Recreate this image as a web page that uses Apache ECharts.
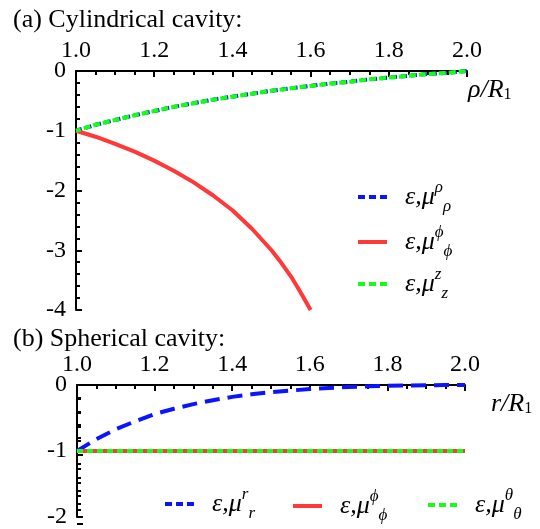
<!DOCTYPE html>
<html>
<head>
<meta charset="utf-8">
<script src="https://cdn.jsdelivr.net/npm/echarts@6/dist/echarts.min.js"></script>
<style>html,body{margin:0;padding:0;background:#fff;}#c{width:540px;height:529px;}#d{position:absolute;left:100px;top:95px;width:420px;font:9px monospace;white-space:pre-wrap;background:rgba(255,255,190,0.95);display:none;}</style>
</head>
<body>
<div id="c"></div>
<div id="d"></div>
<script>
// ---- data ----
// (a) cylindrical cavity
var xA = [1.00,1.05,1.10,1.15,1.20,1.25,1.30,1.35,1.40,1.45,1.50,1.55,1.60,1.65,1.70,1.75,1.80,1.85,1.90,1.95,2.00];
var rhoA = [-1.00,-0.90,-0.82,-0.74,-0.67,-0.60,-0.54,-0.48,-0.43,-0.38,-0.33,-0.29,-0.25,-0.21,-0.18,-0.14,-0.11,-0.08,-0.05,-0.03,0.00];
var zA = [-1.00,-0.90,-0.82,-0.74,-0.67,-0.60,-0.54,-0.48,-0.43,-0.38,-0.33,-0.29,-0.25,-0.21,-0.18,-0.14,-0.11,-0.08,-0.05,-0.03,0.00];
var xPhiA = [1.00,1.05,1.10,1.15,1.20,1.25,1.30,1.35,1.40,1.45,1.50,1.525,1.55,1.575,1.60];
var phiA = [-1.00,-1.10,-1.22,-1.35,-1.50,-1.67,-1.86,-2.08,-2.33,-2.64,-3.00,-3.21,-3.44,-3.71,-4.00];
// (b) spherical cavity
var xB = [1.00,1.05,1.10,1.15,1.20,1.25,1.30,1.35,1.40,1.45,1.50,1.55,1.60,1.65,1.70,1.75,1.80,1.85,1.90,1.95,2.00];
var rB = [-1.00,-0.82,-0.67,-0.55,-0.44,-0.36,-0.29,-0.23,-0.18,-0.14,-0.11,-0.085,-0.06,-0.045,-0.03,-0.02,-0.012,-0.007,-0.003,-0.001,0.00];
var xFlatB = [1.0, 2.0];
var phiB = [-1, -1];
var thetaB = [-1, -1];

function pairs(xs, ys) { return xs.map(function (x, i) { return [x, ys[i]]; }); }

var FONT = "'Liberation Serif', 'DejaVu Serif', serif";
var BLUE = '#0a14ff', RED = '#ff3838', GREEN = '#14ff14';
var TICK = '#010101';
var DASH_ICON = 'path://M0,0h7v4h-7zM11,0h7v4h-7zM22,0h7v4h-7z';

var legendRich = {
  sp: { width: 13 },
  m: { fontFamily: FONT, fontStyle: 'italic', fontSize: 26, color: '#000', lineHeight: 36, verticalAlign: 'middle' },
  sup: { fontFamily: FONT, fontStyle: 'italic', fontSize: 17, color: '#000', lineHeight: 17, verticalAlign: 'top' },
  sub: { fontFamily: FONT, fontStyle: 'italic', fontSize: 17, color: '#000', lineHeight: 17, verticalAlign: 'bottom' }
};
var legendLabels = {
  rhoA: ['ρ', 'ρ'], phiA: ['ϕ', 'ϕ'], zA: ['z', 'z'],
  rB: ['r', 'r'], phiB: ['ϕ', 'ϕ'], thetaB: ['θ', 'θ']
};
function legendFmt(name) {
  var l = legendLabels[name];
  return '{sp|}{m|ε,μ}{sup|' + l[0] + '}{sub|' + l[1] + '}';
}
function oneLegend(name, icon, left, top) {
  return {
    data: [{ name: name, icon: icon }],
    left: left, top: top, orient: 'horizontal',
    itemWidth: 29, itemHeight: 4, padding: 0, selectedMode: false,
    formatter: legendFmt,
    textStyle: { fontFamily: FONT, rich: legendRich }
  };
}

function xAxisCfg(grid, nameRich, nameGap) {
  return {
    type: 'value', gridIndex: grid, position: 'top', min: 1, max: 2, interval: 0.2,
    axisLine: { show: true, onZero: false, lineStyle: { color: '#000', width: 2 } },
    axisTick: { show: true, inside: true, length: 6, lineStyle: { color: '#000', width: 2 } },
    minorTick: { show: true, splitNumber: 4, length: 4, lineStyle: { color: '#000', width: 2 } },
    splitLine: { show: false },
    axisLabel: { fontFamily: FONT, fontSize: 24, color: '#000', margin: 8,
      formatter: function (v) { return v.toFixed(1); } },
    name: nameRich, nameLocation: 'end', nameGap: nameGap,
    nameTextStyle: {
      fontFamily: FONT,
      align: 'left', verticalAlign: 'top', padding: [4, 0, 0, 0],
      rich: {
        i: { fontFamily: FONT, fontStyle: 'italic', fontSize: 26, color: '#000', lineHeight: 28, verticalAlign: 'bottom' },
        s: { fontFamily: FONT, fontSize: 16, color: '#000', lineHeight: 16, verticalAlign: 'bottom' }
      }
    }
  };
}
function yAxisCfg(grid, min) {
  return {
    type: 'value', gridIndex: grid, min: min, max: 0, interval: 1,
    axisLine: { show: true, onZero: false, lineStyle: { color: '#000', width: 2 } },
    axisTick: { show: true, inside: true, length: 6, lineStyle: { color: '#000', width: 2 } },
    minorTick: { show: true, splitNumber: 5, length: 4, lineStyle: { color: '#000', width: 2 } },
    splitLine: { show: false },
    axisLabel: { fontFamily: FONT, fontSize: 24, color: '#000', margin: 10,
      formatter: function (v) { return String(v); } }
  };
}

// ---- main layout ----
var mainGrids = [
  { left: 76, top: 71, width: 391, height: 239, yMin: -4 },
  { left: 77, top: 385, width: 388, height: 139, yMin: -2 }
];
var grids = mainGrids.map(function (g) { return { left: g.left, top: g.top, width: g.width, height: g.height }; });
var xAxes = [ xAxisCfg(0, '{i|ρ/R}{s|1}', 1), xAxisCfg(1, '{i|r/R}{s|1}', 26) ];
var yAxes = [ yAxisCfg(0, -4), yAxisCfg(1, -2) ];

// ---- tick strips: thin grids whose split lines act as inward tick marks ----
function hiddenValueAxis(gi, min, max) {
  return { type: 'value', gridIndex: gi, min: min, max: max, show: false };
}
function stripAxis(gi, min, max, interval, minor) {
  return {
    type: 'value', gridIndex: gi, min: min, max: max, interval: interval,
    axisLine: { show: false }, axisTick: { show: false }, axisLabel: { show: false },
    minorTick: { show: false, splitNumber: minor || 5 },
    splitLine: { show: !minor, lineStyle: { color: TICK, width: 2 } },
    minorSplitLine: { show: !!minor, lineStyle: { color: TICK, width: 2 } }
  };
}
mainGrids.forEach(function (g) {
  // x major (length 6) and minor (length 4) ticks, hanging down from the top axis line
  [[6, 0], [4, 4]].forEach(function (spec) {
    var gi = grids.length;
    grids.push({ left: g.left, top: g.top, width: g.width, height: spec[0] });
    xAxes.push(stripAxis(gi, 1, 2, 0.2, spec[1]));
    yAxes.push(hiddenValueAxis(gi, 0, 1));
  });
  // y major (length 6) and minor (length 4) ticks, pointing right from the left axis line
  [[6, 0], [4, 5]].forEach(function (spec) {
    var gi = grids.length;
    grids.push({ left: g.left, top: g.top, width: spec[0], height: g.height });
    xAxes.push(hiddenValueAxis(gi, 0, 1));
    yAxes.push(stripAxis(gi, g.yMin, 0, 1, spec[1]));
  });
});

var chart = echarts.init(document.getElementById('c'));
chart.setOption({
  animation: false,
  textStyle: { fontFamily: FONT },
  title: [
    { text: '(a) Cylindrical cavity:', left: 8, top: 2, textStyle: { fontFamily: FONT, fontSize: 26, fontWeight: 'normal', color: '#000' } },
    { text: '(b) Spherical cavity:', left: 8, top: 321, textStyle: { fontFamily: FONT, fontSize: 26, fontWeight: 'normal', color: '#000' } }
  ],
  grid: grids,
  xAxis: xAxes,
  yAxis: yAxes,
  legend: [
    oneLegend('rhoA', DASH_ICON, 358, 179),
    oneLegend('phiA', 'rect', 358, 224),
    oneLegend('zA', DASH_ICON, 358, 266),
    oneLegend('rB', DASH_ICON, 165, 486),
    oneLegend('phiB', 'rect', 293, 488),
    oneLegend('thetaB', DASH_ICON, 428, 487)
  ],
  series: [
    { name: 'rhoA', type: 'line', xAxisIndex: 0, yAxisIndex: 0, data: pairs(xA, rhoA), showSymbol: false, symbol: 'none',
      color: BLUE, lineStyle: { color: BLUE, width: 4, type: [6, 4] }, z: 3 },
    { name: 'phiA', type: 'line', xAxisIndex: 0, yAxisIndex: 0, data: pairs(xPhiA, phiA), showSymbol: false, symbol: 'none',
      color: RED, lineStyle: { color: RED, width: 4 }, z: 3 },
    { name: 'zA', type: 'line', xAxisIndex: 0, yAxisIndex: 0, data: pairs(xA, zA), showSymbol: false, symbol: 'none',
      color: GREEN, lineStyle: { color: GREEN, width: 4, type: [7, 3], dashOffset: 2 }, z: 4 },
    { name: 'rB', type: 'line', xAxisIndex: 1, yAxisIndex: 1, data: pairs(xB, rB), showSymbol: false, symbol: 'none',
      color: BLUE, lineStyle: { color: BLUE, width: 4, type: [15, 8] }, z: 3 },
    { name: 'phiB', type: 'line', xAxisIndex: 1, yAxisIndex: 1, data: pairs(xFlatB, phiB), showSymbol: false, symbol: 'none',
      color: RED, lineStyle: { color: RED, width: 4 }, z: 3 },
    { name: 'thetaB', type: 'line', xAxisIndex: 1, yAxisIndex: 1, data: pairs(xFlatB, thetaB), showSymbol: false, symbol: 'none',
      color: GREEN, lineStyle: { color: GREEN, width: 4, type: [6, 4] }, z: 4 }
  ]
});

// ---- self-check: if tick marks are still not painted, show diagnostics ----
try {
  var zr = chart.getZr();
  zr.refreshImmediately();
  var canv = chart.getDom().querySelectorAll('canvas');
  function dark(x, y) {
    for (var k = 0; k < canv.length; k++) {
      var ctx = canv[k].getContext('2d');
      var d = ctx.getImageData(x - 1, y - 1, 3, 3).data;
      for (var i = 0; i < d.length; i += 4) if (d[i + 3] > 100 && d[i] < 100 && d[i + 1] < 100 && d[i + 2] < 100) return true;
    }
    return false;
  }
  var pt = chart.convertToPixel({ gridIndex: 0 }, [1, -2]);
  var ok = dark(Math.round(pt[0]) + 4, Math.round(pt[1]));
  if (!ok) {
    var out = 'canvases=' + canv.length + ' tickpt=' + pt.map(Math.round) + '\n';
    var list = zr.storage.getDisplayList(true);
    var nMain = 0, nStrip = 0;
    list.forEach(function (el) {
      var s = el.shape;
      if (!s || s.x1 == null || !el.style) return;
      var len = Math.hypot(s.x2 - s.x1, s.y2 - s.y1);
      var isMain = el.style.stroke === '#000' && len < 12;
      var isStrip = el.style.stroke === TICK;
      if (isMain) nMain++;
      if (isStrip) nStrip++;
      if ((isMain && nMain <= 3) || (isStrip && nStrip <= 2)) {
        var chain = [], p = el.parent;
        while (p) { chain.push((p.type || 'g') + '[' + Math.round(p.x) + ',' + Math.round(p.y) + ' s' + p.scaleX + ' r' + p.rotation + (p.ignore ? ' IGN' : '') + (p.invisible ? ' INV' : '') + ']'); p = p.parent; }
        out += (isMain ? 'M ' : 'S ') + [s.x1, s.y1, s.x2, s.y2].map(Math.round) + ' pct=' + s.percent + ' T=' + (el.transform ? Array.prototype.map.call(el.transform, function (v) { return +v.toFixed(2); }) : 'none') +
          ' zl=' + el.zlevel + ' z=' + el.z + ' z2=' + el.z2 + ' cull=' + el.culling + ' clip=' + (el.__clipPaths ? el.__clipPaths.length : 0) +
          ' op=' + el.style.opacity + ' sop=' + el.style.strokeOpacity + ' dash=' + el.style.lineDash + ' paint=' + el.shouldBePainted(540, 529, true, true) + '\n  ' + chain.join(' < ') + '\n';
      }
    });
    out += 'nMain=' + nMain + ' nStrip=' + nStrip;
    var d = document.getElementById('d');
    d.textContent = out;
    d.style.display = 'block';
  }
} catch (e) {
  var d2 = document.getElementById('d'); d2.textContent = 'ERR ' + e.message; d2.style.display = 'block';
}
</script>
</body>
</html>
